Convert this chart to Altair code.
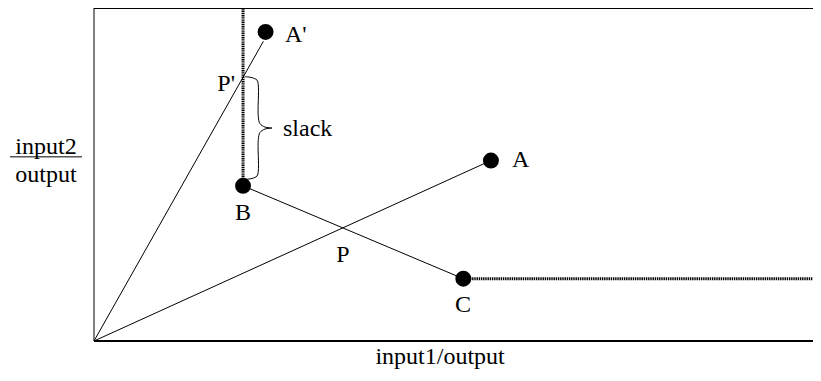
import altair as alt
import pandas as pd

# ---- data (x: input1/output, y: input2/output, arbitrary units) ----
point_names = ["A'", "A", "B", "C"]
point_x = [23.6, 54.6, 20.5, 50.8]
point_y = [92.8, 54.2, 46.6, 18.7]

# rays from origin and the B-C facet
line_ids = ["OA'", "OA'", "OA", "OA", "BC", "BC"]
line_order = [0, 1, 0, 1, 0, 1]
line_x = [0, 23.3, 0, 54.6, 20.5, 50.8]
line_y = [0, 90.0, 0, 54.2, 46.6, 18.7]

X_MAX = 98.9
Y_MAX = 100

# dotted isoquant extensions
dotted_x = [20.5, 50.8]
dotted_x2 = [20.5, X_MAX]
dotted_y = [46.6, 18.7]
dotted_y2 = [Y_MAX, 18.7]

# slack brace outline
brace_x = [20.77, 21.73, 22.42, 22.60, 22.60, 22.83, 23.52, 24.48,
           23.52, 22.83, 22.60, 22.60, 22.42, 21.73, 20.77]
brace_y = [79.38, 79.08, 78.34, 76.85, 67.36, 65.28, 64.24, 63.95,
           63.65, 62.61, 60.53, 51.04, 49.55, 48.81, 48.52]

# labels
left_text = ["A'", "A", "slack"]
left_x = [26.27, 57.5, 26.0]
left_y = [89.91, 52.23, 61.42]

center_text = ["B", "P", "C", "input1/output", "input2", "output"]
center_x = [20.5, 34.25, 50.76, 47.6, -6.6, -6.6]
center_y = [36.2, 23.74, 8.61, -6.9, 56.3, 47.7]

right_text = ["P'"]
right_x = [19.39]
right_y = [75.07]

# frame lines and fraction bar
frame_x = [0, 0, 0, -11.55]
frame_x2 = [X_MAX, X_MAX, 0, -1.65]
frame_y = [Y_MAX, 0, 0, 55.3]
frame_y2 = [Y_MAX, 0, Y_MAX, 55.3]
frame_w = [2, 2, 1, 1]

# ---- build ----
xs = alt.Scale(domain=[0, X_MAX], nice=False, zero=False)
ys = alt.Scale(domain=[0, Y_MAX], nice=False, zero=False)


def X(f):
    return alt.X(f, type="quantitative", scale=xs, axis=None)


def Y(f):
    return alt.Y(f, type="quantitative", scale=ys, axis=None)


FONT = "Liberation Serif"
FS = 24

frame_df = pd.DataFrame({"x": frame_x, "x2": frame_x2, "y": frame_y, "y2": frame_y2, "w": frame_w})
frame = alt.Chart(frame_df).mark_rule(color="black").encode(
    x=X("x"), x2="x2", y=Y("y"), y2="y2",
    strokeWidth=alt.StrokeWidth("w:Q", scale=None, legend=None),
)

dotted_df = pd.DataFrame({"x": dotted_x, "x2": dotted_x2, "y": dotted_y, "y2": dotted_y2})
dotted = alt.Chart(dotted_df).mark_rule(color="black", strokeWidth=3, strokeDash=[1.4, 0.8]).encode(
    x=X("x"), x2="x2", y=Y("y"), y2="y2"
)

lines_df = pd.DataFrame({"id": line_ids, "o": line_order, "x": line_x, "y": line_y})
lines = alt.Chart(lines_df).mark_line(color="black", strokeWidth=1).encode(
    x=X("x"), y=Y("y"), detail="id:N", order="o:Q"
)

brace_df = pd.DataFrame({"o": list(range(len(brace_x))), "x": brace_x, "y": brace_y})
brace = alt.Chart(brace_df).mark_line(color="black", strokeWidth=1, interpolate="catmull-rom").encode(
    x=X("x"), y=Y("y"), order="o:Q"
)

pts_df = pd.DataFrame({"name": point_names, "x": point_x, "y": point_y})
pts = alt.Chart(pts_df).mark_circle(size=254, color="black", opacity=1).encode(
    x=X("x"), y=Y("y")
)


def labels(texts, xv, yv, align):
    df = pd.DataFrame({"t": texts, "x": xv, "y": yv})
    return alt.Chart(df).mark_text(
        align=align, baseline="alphabetic", font=FONT, fontSize=FS, color="black"
    ).encode(x=X("x"), y=Y("y"), text="t:N")


chart = alt.layer(
    frame, dotted, lines, brace, pts,
    labels(left_text, left_x, left_y, "left"),
    labels(center_text, center_x, center_y, "center"),
    labels(right_text, right_x, right_y, "right"),
).properties(
    width=719, height=333,
    autosize=alt.AutoSizeParams(type="none"),
    padding={"left": 86, "top": 0, "right": 0, "bottom": 28},
).configure_view(strokeWidth=0)

chart.save("out.html", embed_options={"renderer": "svg", "actions": False})
